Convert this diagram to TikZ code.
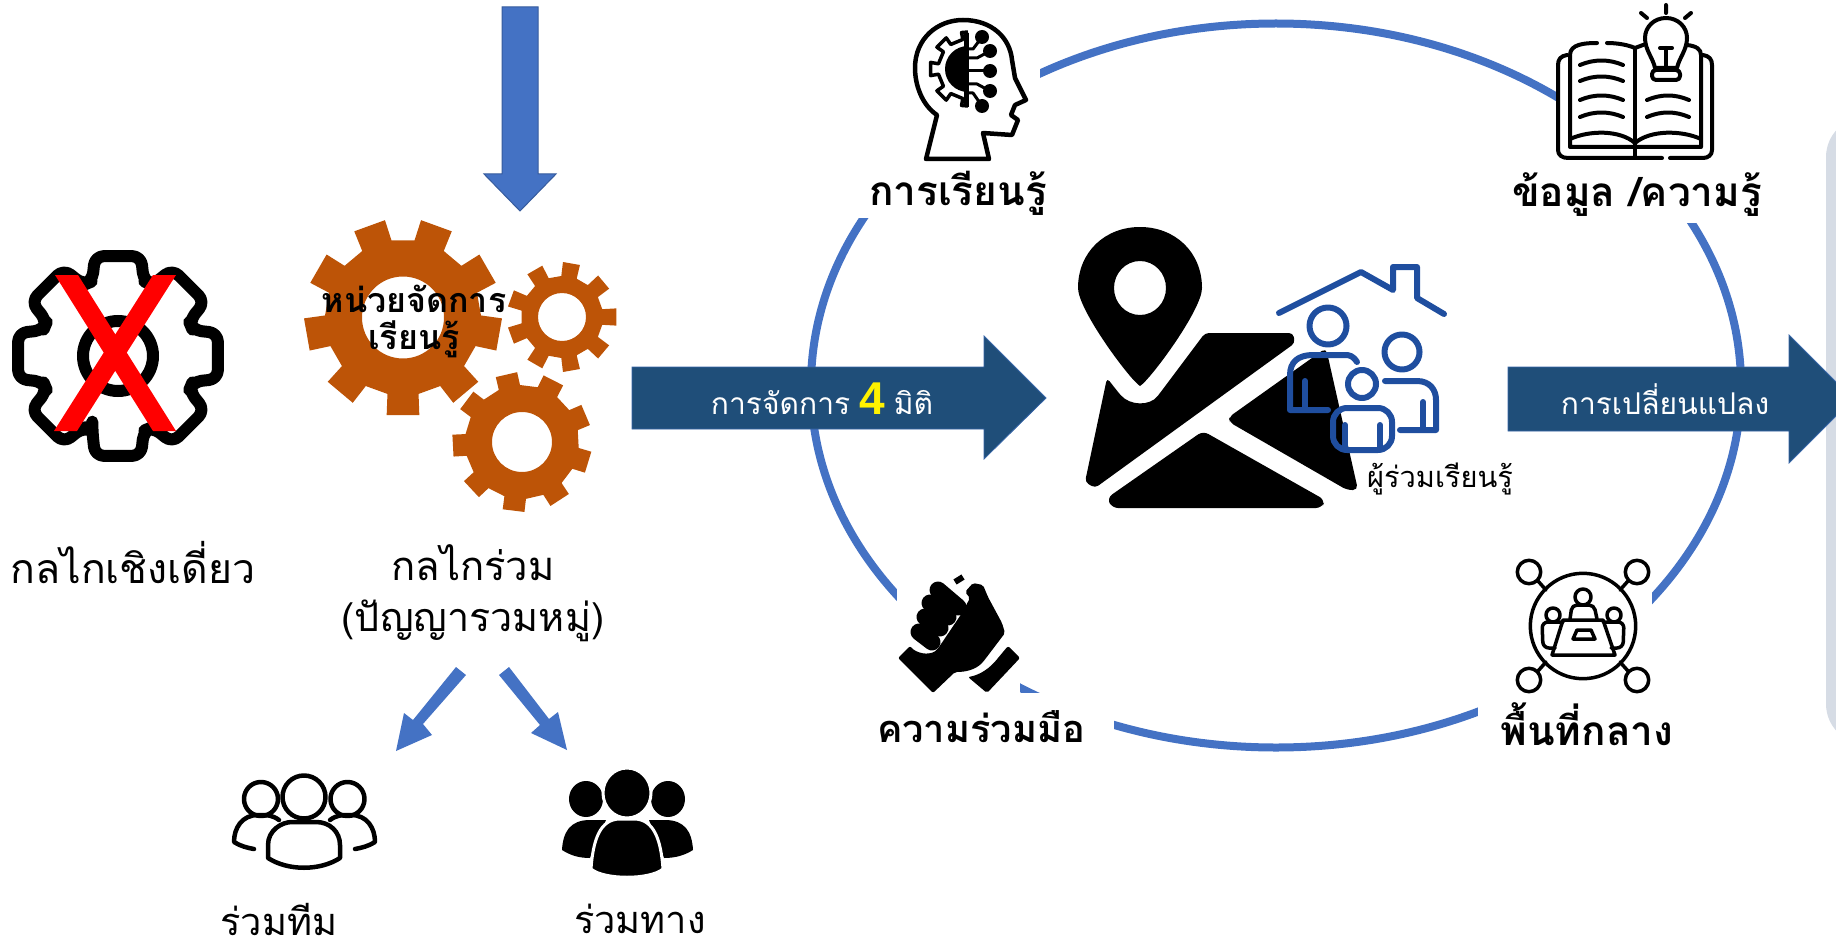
\documentclass[tikz,border=0pt]{standalone}
\usepackage{fontspec}
\newfontfamily\thaifont[Script=Thai]{Loma}
\newfontfamily\numfont{Liberation Sans}
\definecolor{ringblue}{HTML}{4472C4}
\definecolor{navy}{HTML}{1F4E79}
\definecolor{rust}{HTML}{BD5407}
\definecolor{panel}{HTML}{D6DCE5}
\definecolor{famblue}{HTML}{1F4E9F}
\tikzset{
  bigarrow/.style={fill=navy,draw=ringblue!60!navy,line width=0.8pt},
  thinarrow/.style={fill=ringblue,draw=none},
  masker/.style={fill=white,draw=none},
  reglabel/.style={font=\thaifont\fontsize{40}{48}\selectfont,text=black,inner sep=0pt,align=center},
  boldlabel/.style={font=\thaifont\bfseries\fontsize{40.5}{48}\selectfont,text=black,inner sep=0pt},
  gearlabel/.style={font=\thaifont\bfseries\fontsize{34}{40}\selectfont,text=black,inner sep=0pt},
  arrowlabel/.style={font=\thaifont\fontsize{30}{36}\selectfont,text=white,inner sep=0pt},
  icon/.style={draw=black,line width=5pt,line join=round,line cap=round},
  fam/.style={draw=famblue,line width=6pt,line join=round,line cap=round},
  finger/.style={draw=black,line width=17pt,line cap=round},
}
\newcommand{\cogwheel}[7]{% cx cy rin rout hole start halfwidthdeg
  \fill[rust,even odd rule,shift={(#1,#2)}]
    ({#6-#7-2}:#3)
    \foreach \k in {0,...,8}{
      -- ({#6+40*\k-#7-2}:#3) -- ({#6+40*\k-#7}:#4) -- ({#6+40*\k+#7}:#4) -- ({#6+40*\k+#7+2}:#3)
    } -- cycle (0,0) circle (#5);
}
\begin{document}
\begin{tikzpicture}[x=1pt,y=-1pt]
\useasboundingbox (0,0) rectangle (1836,944);
\clip (0,0) rectangle (1836,944);
% panel
\fill[panel,rounded corners=40pt] (1826,117) rectangle (1900,744);
% ring
\draw[ringblue,line width=8pt] (1276,385.5) ellipse (465 and 362);
\fill[masker] (820,0) rectangle (1040,218);
\fill[masker] (1557,0) rectangle (1770,223);
\fill[masker] (897,570) rectangle (1020,693);
\fill[masker] (870,693) rectangle (1114,775);
\fill[masker] (1500,540) rectangle (1652,693);
\fill[masker] (1478,693) rectangle (1680,775);
% down arrow
\filldraw[fill=ringblue,draw=ringblue!80!black,line width=1pt] (502,7) -- (538,7) -- (538,174) -- (556,174) -- (520,211) -- (484,174) -- (502,174) -- cycle;
% crossed gear
\begin{scope}[shift={(118,356)}]
\draw[icon,line width=12pt,rounded corners=9pt]
  (109:79) \foreach \a in {90,45,0,-45,-90,-135,-180,-225}{ -- ({\a+19}:79) -- ({\a+13}:102.5) -- ({\a-13}:102.5) -- ({\a-19}:79)} -- cycle;
\draw[black,line width=12pt] (0,0) circle (35);
\end{scope}
\fill[red] (55,275) -- (78,275) -- (176,431) -- (153,431) -- cycle;
\fill[red] (153,275) -- (176,275) -- (77,431) -- (54,431) -- cycle;
% orange gears
\cogwheel{403}{317.5}{78}{99}{41}{90}{9.5}
\cogwheel{522}{442}{57}{70}{30}{97}{9}
\cogwheel{562}{317}{41}{55}{24}{80}{9}
\node[gearlabel] (unitA) at (414,299) {หน่วยจัดการ};
\node[gearlabel] (unitB) at (414,339) {เรียนรู้};
% left labels
\node[reglabel,font=\thaifont\fontsize{41}{48}\selectfont] (single) at (133,563) {กลไกเชิงเดี่ยว};
\node[reglabel] (joint) at (473,563) {กลไกร่วม};
\node[reglabel,font=\thaifont\fontsize{39.5}{48}\selectfont] (wisdom) at (473,621) {(ปัญญารวมหมู่)};
% small arrows
\fill[thinarrow] (456,667) -- (466,675) -- (423,724) -- (432,735) -- (396,751) -- (404,713) -- (413,720) -- cycle;
\fill[thinarrow] (509,667) -- (499,675) -- (540,725) -- (531,733) -- (567,750) -- (558,712) -- (549,719) -- cycle;
% outline team
\begin{scope}[icon,line width=4.5pt]
\draw (304,797) circle (21.5);
\draw (261,799) circle (17);
\draw (347.5,799) circle (17);
\draw (268,858) -- (268,845) .. controls (268,830) and (282,822) .. (292,822) -- (316,822) .. controls (330,822) and (340,832) .. (340,845) -- (340,858) .. controls (320,871) and (288,871) .. (268,858) -- cycle;
\draw (279,820) .. controls (272,815) and (268,815) .. (258,815) .. controls (242,815) and (234,828) .. (234,842) .. controls (240,846) and (248,848) .. (254,849);
\draw (330,820) .. controls (337,815) and (341,815) .. (351,815) .. controls (367,815) and (375,828) .. (375,842) .. controls (369,846) and (361,848) .. (355,849);
\end{scope}
% solid team
\fill (586,799) ellipse (17 and 18);
\fill (668,799) ellipse (17 and 18);
\fill (562,850) .. controls (563,832) and (570,820) .. (590,820) -- (606,820) -- (590,858) .. controls (578,858) and (570,855) .. (562,850) -- cycle;
\fill (693,850) .. controls (692,832) and (685,820) .. (665,820) -- (649,820) -- (664,858) .. controls (676,858) and (685,855) .. (693,850) -- cycle;
\filldraw[fill=black,draw=white,line width=3pt] (627,793) ellipse (24 and 25);
\filldraw[fill=black,draw=white,line width=3pt] (591,869) .. controls (593,840) and (600,819) .. (620,819) -- (634,819) .. controls (654,819) and (661,840) .. (663,869) .. controls (650,880) and (604,880) .. (591,869) -- cycle;
\node[reglabel,font=\thaifont\fontsize{38}{44}\selectfont] (team) at (279,919) {ร่วมทีม};
\node[reglabel,font=\thaifont\fontsize{38}{44}\selectfont] (way) at (640,919) {ร่วมทาง};
% navy arrows
\filldraw[bigarrow] (632,367) -- (984,367) -- (984,336) -- (1046,398) -- (984,459) -- (984,429) -- (632,429) -- cycle;
\filldraw[bigarrow] (1508,367) -- (1789,367) -- (1789,335) -- (1853,399) -- (1789,463) -- (1789,431) -- (1508,431) -- cycle;
\node[arrowlabel] (manage) at (822,399) {การจัดการ\hspace{0.3em}{\numfont\bfseries\fontsize{46}{46}\selectfont\textcolor{yellow}{4}}\hspace{0.3em}มิติ};
\node[arrowlabel] (change) at (1665,399) {การเปลี่ยนแปลง};
% map pin
\fill[even odd rule] (1140,386) .. controls (1130,380) and (1078,310) .. (1078,288) .. controls (1078,252) and (1105,227) .. (1140,227) .. controls (1175,227) and (1202,252) .. (1202,288) .. controls (1202,310) and (1150,380) .. (1140,386) -- cycle (1140,288) ellipse (26 and 27);
\fill[rounded corners=4pt] (1107,378) -- (1118,392) .. controls (1130,406) and (1150,406) .. (1160,393) -- (1205,333) -- (1293,333) -- (1295,343) -- (1095,488) -- (1085,482) -- cycle;
\fill[rounded corners=5pt] (1229,417) -- (1326,348) -- (1358,490) -- (1347,490) -- (1229,422) -- cycle;
\fill[rounded corners=6pt] (1203,431) -- (1325,500) -- (1322,508) -- (1112,508) -- (1107,498) -- cycle;
% family
\begin{scope}[fam]
\draw (1279,313) -- (1361,272) -- (1393,290) -- (1393,267) -- (1417,267) -- (1417,298) -- (1444,314);
\draw (1328,326) circle (18.5);
\draw (1357,362) .. controls (1353,356) and (1350,355) .. (1345,355) -- (1313,355) .. controls (1298,355) and (1290,362) .. (1290,375) -- (1290,410) -- (1328,410);
\draw (1305,381) -- (1305,408);
\draw (1402,352) circle (17.5);
\draw (1385,381) -- (1417,381) .. controls (1430,381) and (1436,390) .. (1436,400) -- (1436,430) -- (1400,430);
\draw (1423,402) -- (1423,428);
\draw (1362,384) circle (14);
\draw[rounded corners=14pt] (1333,450) -- (1333,408) -- (1392,408) -- (1392,450) -- cycle;
\draw (1345,425) -- (1345,448);
\draw (1380,425) -- (1380,448);
\end{scope}
\node[inner sep=0pt,font=\thaifont\fontsize{29}{34}\selectfont] (learners) at (1440,479) {ผู้ร่วมเรียนรู้};
% head icon
\draw[icon,line width=4.5pt] (926,159) -- (937,115) .. controls (922,105) and (915,85) .. (915,68) .. controls (915,38) and (938,20) .. (963,20) .. controls (992,20) and (1010,38) .. (1012,60) -- (1015,78) -- (1026,100) -- (1015,105) -- (1011,115) -- (1018,120) -- (1012,135) -- (983,133) -- (989,159) -- cycle;
\begin{scope}[shift={(968,69)}]
\draw[icon,line width=3.5pt,line cap=butt] (90:37) -- (100:37) -- (100:30)
  \foreach \a in {135,180,225}{ -- ({\a-10}:30) -- ({\a-10}:38) -- ({\a+10}:38) -- ({\a+10}:30)}
  -- (260:30) -- (260:37) -- (270:37);
\fill (90:23) arc (90:270:23) -- cycle;
\end{scope}
\draw[black,line width=5pt] (966,33) -- (966,107);
\begin{scope}[icon,line width=3pt]
\foreach \px/\py in {982/37,990/51,990/71,990/91,982/106}{\filldraw[fill=black,draw=none] (\px,\py) circle (7);}
\draw (968,49) -- (973,49) -- (982,37);
\draw (968,58) -- (977,58) -- (990,51);
\draw (968,71) -- (990,71);
\draw (968,84) -- (977,84) -- (990,91);
\draw (968,93) -- (973,93) -- (982,106);
\end{scope}
% book icon
\begin{scope}[icon,line width=4pt]
\draw (1567,55) .. controls (1561,56) and (1558,59) .. (1558,65) -- (1558,150) .. controls (1558,155) and (1562,158) .. (1568,158) -- (1662,158);
\draw (1670,158) -- (1703,158) .. controls (1708,158) and (1712,155) .. (1712,150) -- (1712,65) .. controls (1712,59) and (1709,56) .. (1703,55);
\draw (1597,43) .. controls (1585,43) and (1570,44) .. (1570,55) -- (1570,147) -- (1701,147) -- (1701,55) .. controls (1701,49) and (1696,46) .. (1687,45);
\draw (1607,43) .. controls (1618,43) and (1628,45) .. (1635,48) .. controls (1638,47) and (1640,46) .. (1643,45);
\draw (1635,48) -- (1635,158);
\draw (1570,139) .. controls (1590,130) and (1620,130) .. (1635,143) .. controls (1650,130) and (1681,130) .. (1701,139);
\foreach \yy in {61,77,96,113}{\draw (1580,\yy+4) .. controls (1594,\yy-2) and (1609,\yy-2) .. (1623,\yy+4);}
\foreach \yy in {96,113}{\draw (1647,\yy+4) .. controls (1661,\yy-2) and (1675,\yy-2) .. (1689,\yy+4);}
\filldraw[fill=white] (1655,68) .. controls (1653,58) and (1645,50) .. (1645,38) .. controls (1645,27) and (1654,18) .. (1666,18) .. controls (1678,18) and (1687,27) .. (1687,38) .. controls (1687,50) and (1679,58) .. (1677,68) -- cycle;
\draw (1660,48) -- (1672,48) (1666,48) -- (1666,70);
\filldraw[fill=white,rounded corners=4pt] (1652,70) rectangle (1680,80);
\draw (1666,5) -- (1666,13) (1641,13) -- (1647,18) (1691,13) -- (1685,18);
\end{scope}
% hand icon
\fill[rounded corners=2pt] (1008,646) -- (1020,658) -- (987,693) -- (968,677) .. controls (980,675) and (990,668) .. (998,658) -- cycle;
\fill[rounded corners=2pt] (898,658) -- (910,646) .. controls (916,653) and (928,656) .. (937,650) -- (962,613) -- (970,598) -- (965,592) -- (973,583) -- (983,585) -- (988,597) -- (995,610) -- (1002,623) -- (1005,633) -- (983,662) .. controls (975,670) and (965,672) .. (955,672) -- (933,693) -- cycle;
\draw[finger] (938,590) -- (958,607);
\draw[finger] (930,603) -- (948,617);
\draw[finger] (925,617) -- (940,628);
\draw[finger] (919,632) -- (932,642);
\draw[black,line width=6pt] (955,582) -- (963,577);
% meeting icon
\begin{scope}[icon,line width=3.5pt]
\draw (1583,626) circle (52.7);
\foreach \mx/\my in {1529/572,1637/572,1529/680,1637/680}{\draw (\mx,\my) circle (11.7);}
\draw (1538,581) -- (1546,590) (1628,581) -- (1620,590) (1538,671) -- (1546,662) (1628,671) -- (1620,662);
\draw (1583,597) circle (8);
\draw[rounded corners=5pt] (1570,619) -- (1572,605) -- (1594,605) -- (1597,619);
\draw (1553,615) circle (7);
\draw (1614,615) circle (7);
\draw[rounded corners=6pt] (1555,648) -- (1543,648) -- (1542,622) -- (1563,622);
\draw[rounded corners=6pt] (1611,648) -- (1623,648) -- (1624,622) -- (1603,622);
\draw (1563,620) -- (1603,620) -- (1615,655) -- (1552,655) -- cycle;
\draw (1577,630) -- (1591,630) -- (1595,639) -- (1573,639) -- cycle;
\end{scope}
% bold labels
\node[boldlabel] (learn) at (958,193) {การเรียนรู้};
\node[boldlabel] (info) at (1637,195) {ข้อมูล /ความรู้};
\node[boldlabel,font=\thaifont\bfseries\fontsize{38}{46}\selectfont] (collab) at (981,727) {ความร่วมมือ};
\node[boldlabel] (space) at (1587,724) {พื้นที่กลาง};
\end{tikzpicture}
\end{document}
